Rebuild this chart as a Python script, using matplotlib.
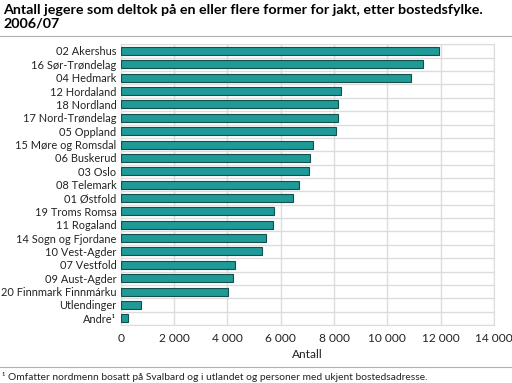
import matplotlib
matplotlib.use("Agg")
import matplotlib.pyplot as plt
import numpy as np

plt.rcParams['font.family'] = ['Lato', 'DejaVu Sans']

fylker = ["02 Akershus", "16 Sør-Trøndelag", "04 Hedmark", "12 Hordaland",
          "18 Nordland", "17 Nord-Trøndelag", "05 Oppland", "15 Møre og Romsdal",
          "06 Buskerud", "03 Oslo", "08 Telemark", "01 Østfold",
          "19 Troms Romsa", "11 Rogaland", "14 Sogn og Fjordane", "10 Vest-Agder",
          "07 Vestfold", "09 Aust-Agder", "20 Finnmark Finnmárku",
          "Utlendinger", "Andre¹"]
antall = [11950, 11350, 10870, 8260, 8150, 8140, 8060, 7200, 7090, 7050,
          6700, 6470, 5760, 5720, 5440, 5290, 4300, 4210, 4040, 750, 260]
xticks = [0, 2000, 4000, 6000, 8000, 10000, 12000, 14000]

fig = plt.figure(figsize=(5.12, 3.83), dpi=100)
ax = fig.add_axes([120.7 / 512, 1 - 325 / 383, (494 - 120.7) / 512, (325 - 44.3) / 383])

y = np.arange(len(fylker))
ax.barh(y, antall, height=0.6, color='#1f9a96', edgecolor='#12504e', linewidth=0.8, zorder=3)

ax.set_xlim(0, 14000)
ax.set_ylim(len(fylker) - 0.5, -0.5)
ax.set_xticks(xticks)
ax.set_xticklabels([f"{v:,}".replace(",", " ") for v in xticks])
ax.set_yticks(y)
ax.set_yticklabels(fylker)
ax.set_yticks(np.arange(len(fylker) + 1) - 0.5, minor=True)
ax.tick_params(axis='both', which='both', length=0, labelsize=8.6, colors='#222222')
ax.tick_params(axis='y', labelsize=7.95, pad=3)
ax.tick_params(axis='x', pad=6)
ax.grid(axis='x', color='#dcdcdc', linewidth=1, zorder=0)
ax.grid(axis='y', which='minor', color='#dcdcdc', linewidth=1, zorder=0)
for s in ax.spines.values():
    s.set_color('#dcdcdc')
ax.set_xlabel("Antall", fontsize=8.6, color='#222222', labelpad=3)

fig.text(3 / 512, 1 - 4 / 383, "Antall jegere som deltok på en eller flere former for jakt, etter bostedsfylke.\n2006/07",
         fontsize=10.3, fontweight='bold', va='top', ha='left', linespacing=1.1)
fig.add_artist(plt.Line2D([0, 1], [1 - 36 / 383] * 2, color='#b0b0b0', lw=0.8))
fig.add_artist(plt.Line2D([0, 1], [1 - 367 / 383] * 2, color='#b0b0b0', lw=0.8))
fig.text(2 / 512, 1 - 377 / 383, "¹ Omfatter nordmenn bosatt på Svalbard og i utlandet og personer med ukjent bostedsadresse.",
         fontsize=7.4, va='center', ha='left', color='#222222')

fig.savefig("out.png", dpi=100)
